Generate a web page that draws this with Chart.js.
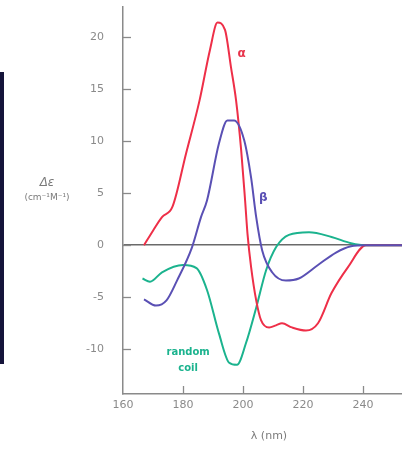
<!DOCTYPE html>
<html>
<head>
<meta charset="utf-8">
<script src="https://cdn.jsdelivr.net/npm/chart.js@4"></script>
<style>
  html, body { margin: 0; padding: 0; background: #fff; }
  #wrap { position: relative; width: 402px; height: 451px; }
  #bar { position: absolute; left: 0; top: 72px; width: 4px; height: 292px; background: #15143a; }
</style>
</head>
<body>
<div id="wrap">
  <canvas id="cdChart" width="402" height="451"></canvas>
  <div id="bar"></div>
</div>
<script>
// wavelength (nm) / delta epsilon values
const alphaX = [167, 170, 173, 176.5, 181, 185.5, 189, 191.5, 194, 196, 197.7, 199.4, 200.7, 201.5, 202.7, 204.4, 206, 208.7, 211, 213, 216.3, 221, 225, 229.5, 235, 241, 253];
const alphaY = [0, 1.4, 2.7, 3.7, 8.8, 13.9, 18.8, 21.4, 20.7, 17.1, 13.9, 9.1, 4.3, 1.1, -2.1, -5.3, -7.2, -7.9, -7.7, -7.5, -7.9, -8.2, -7.5, -4.6, -2.1, 0, 0];

const betaX = [167, 171, 174.5, 178, 183, 186, 188, 192, 194.8, 197, 200.4, 202.7, 204.4, 206.4, 209.7, 214.3, 218.6, 225, 231, 236, 241, 253];
const betaY = [-5.2, -5.8, -5.3, -3.4, -0.2, 2.7, 4.3, 9.8, 12.0, 12.0, 10.1, 6.5, 2.7, -0.5, -2.6, -3.4, -3.2, -1.9, -0.7, -0.1, 0, 0];

const coilX = [166.5, 169, 173, 180, 184.5, 188, 192, 195.4, 198, 201, 204.4, 207.7, 211, 215.3, 222, 229.5, 236, 241, 253];
const coilY = [-3.2, -3.5, -2.6, -1.9, -2.2, -4.3, -8.5, -11.3, -11.5, -9.4, -6.0, -2.4, -0.2, 1.0, 1.25, 0.8, 0.2, 0, 0];

const xTicks = [160, 180, 200, 220, 240];
const yTicks = [-10, -5, 0, 5, 10, 15, 20];

// curve labels: text, x, y (data units)
const curveLabels = [
  { text: "\u03b1", x: 199.5, y: 18.4, color: "#e8334a" },
  { text: "\u03b2", x: 206.8, y: 4.6, color: "#5a50b4" },
  { text: "random", x: 181.7, y: -10.3, color: "#1bb38e" },
  { text: "coil", x: 181.7, y: -11.8, color: "#1bb38e" }
];

const toPoints = (xs, ys) => xs.map((x, i) => ({ x: x, y: ys[i] }));

const textPlugin = {
  id: "textPlugin",
  beforeDatasetsDraw(chart) {
    const { ctx, scales: { x, y } } = chart;
    ctx.save();
    ctx.strokeStyle = "#8a8a8a";
    ctx.lineWidth = 1.3;
    // inner tick marks
    yTicks.forEach(v => {
      const py = Math.round(y.getPixelForValue(v)) + 0.5;
      ctx.beginPath();
      ctx.moveTo(x.left, py);
      ctx.lineTo(x.left + 8, py);
      ctx.stroke();
    });
    xTicks.forEach(v => {
      if (v === 160) return;
      const px = Math.round(x.getPixelForValue(v)) + 0.5;
      ctx.beginPath();
      ctx.moveTo(px, y.bottom);
      ctx.lineTo(px, y.bottom - 8);
      ctx.stroke();
    });
    ctx.restore();
  },
  afterDraw(chart) {
    const { ctx, scales: { x, y } } = chart;
    ctx.save();
    ctx.textAlign = "center";
    ctx.textBaseline = "middle";

    curveLabels.forEach(l => {
      ctx.fillStyle = l.color;
      ctx.font = (l.text.length > 1 ? "bold 10px" : "bold 12px") + " 'DejaVu Sans', sans-serif";
      ctx.fillText(l.text, x.getPixelForValue(l.x), y.getPixelForValue(l.y));
    });

    // axis titles
    ctx.fillStyle = "#7a7a7a";
    ctx.font = "italic 12px 'DejaVu Sans', sans-serif";
    ctx.fillText("\u0394\u03b5", 47, 183);
    ctx.font = "9px 'DejaVu Sans', sans-serif";
    ctx.fillText("(cm\u207b\u00b9M\u207b\u00b9)", 47, 198);
    ctx.font = "11px 'DejaVu Sans', sans-serif";
    ctx.fillText("\u03bb (nm)", 269, 436);
    ctx.restore();
  }
};

const cdChart = new Chart(document.getElementById("cdChart"), {
  type: "line",
  data: {
    datasets: [
      {
        label: "beta",
        data: toPoints(betaX, betaY),
        borderColor: "#5a50b4",
        borderWidth: 2,
        pointRadius: 0,
        cubicInterpolationMode: "monotone"
      },
      {
        label: "alpha",
        data: toPoints(alphaX, alphaY),
        borderColor: "#ee2f48",
        borderWidth: 2,
        pointRadius: 0,
        cubicInterpolationMode: "monotone"
      },
      {
        label: "random coil",
        data: toPoints(coilX, coilY),
        borderColor: "#1bb38e",
        borderWidth: 2,
        pointRadius: 0,
        cubicInterpolationMode: "monotone"
      }
    ]
  },
  options: {
    responsive: false,
    animation: false,
    layout: { padding: { top: 7, right: 0, left: 0, bottom: 0 } },
    plugins: {
      legend: { display: false },
      tooltip: { enabled: false }
    },
    scales: {
      x: {
        type: "linear",
        min: 160,
        max: 253,
        afterFit(scale) { scale.height = 57; },
        afterBuildTicks(scale) { scale.ticks = xTicks.map(v => ({ value: v })); },
        border: { display: true, color: "#8a8a8a", width: 1.5 },
        grid: { display: false, drawTicks: false },
        ticks: {
          padding: 5,
          color: "#8a8a8a",
          font: { size: 11, family: "'DejaVu Sans', sans-serif" }
        }
      },
      y: {
        type: "linear",
        min: -14.3,
        max: 22.9,
        afterFit(scale) {
          scale.width = 123;
          scale.paddingTop = 0;
          scale.paddingBottom = 0;
        },
        afterBuildTicks(scale) { scale.ticks = yTicks.map(v => ({ value: v })); },
        border: { display: true, color: "#8a8a8a", width: 1.5 },
        grid: {
          drawTicks: false,
          lineWidth: 1.5,
          color: c => (c.tick && c.tick.value === 0 ? "#6a6a6a" : "rgba(0,0,0,0)")
        },
        ticks: {
          padding: 19,
          color: "#8a8a8a",
          font: { size: 11, family: "'DejaVu Sans', sans-serif" }
        }
      }
    }
  },
  plugins: [textPlugin]
});
</script>
</body>
</html>
